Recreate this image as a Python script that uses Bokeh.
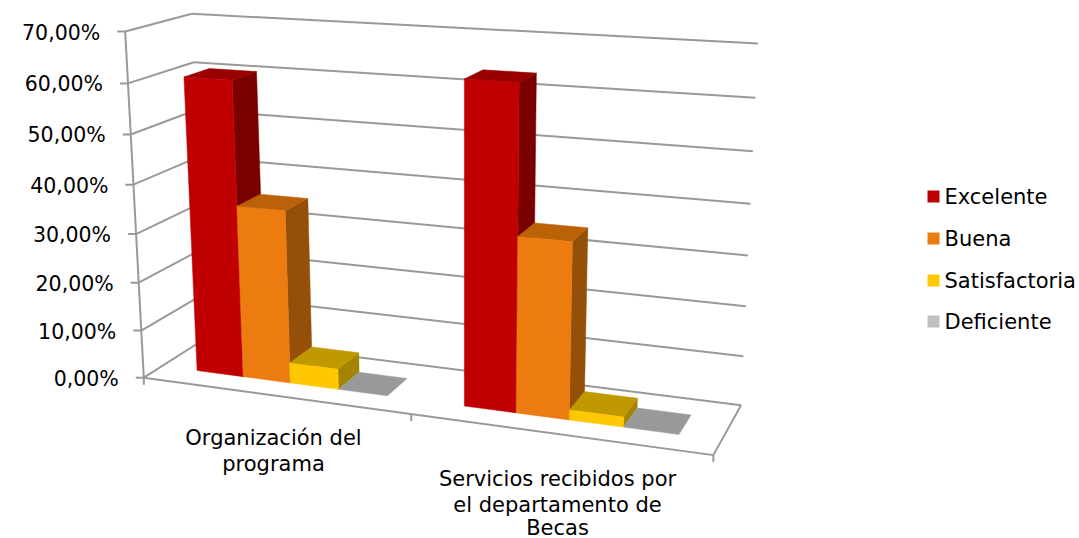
import numpy as np
from bokeh.plotting import figure
from bokeh.models import Range1d
from bokeh.core.properties import value
from bokeh.embed import file_html
from bokeh.resources import INLINE

tick_values = [0, 10, 20, 30, 40, 50, 60, 70]
tick_labels = ["0,00%", "10,00%", "20,00%", "30,00%", "40,00%", "50,00%", "60,00%", "70,00%"]
categories = [["Organización del", "programa"],
              ["Servicios recibidos por", "el departamento de", "Becas"]]
series_names = ["Excelente", "Buena", "Satisfactoria", "Deficiente"]
excelente = [60.5, 63.6]
buena = [35.5, 34.8]
satisfactoria = [4.2, 2.0]
deficiente = [0.0, 0.0]

front_colors = ["#C00000", "#EC7C10", "#FFC800", "#BFBFBF"]
top_colors = ["#990000", "#BA6208", "#C09800", "#999999"]
side_colors = ["#7A0000", "#945008", "#A38300", "#808080"]
legend_colors = ["#C00000", "#EC7C10", "#FFC800", "#BFBFBF"]

# Projective camera fitted to the chart box corners (category u, value v, depth d) -> page pixels
control = [(0,0,0,143,378),(0,70,0,125,32),(0,70,1,190.7,13.5),(0,60,1,193,62),(0,60,0,128.3,83),
           (0,50,0,130,133),(0,40,0,132.5,183),(0,30,0,135.7,233),(0,20,0,138.3,282.7),(0,10,0,140.7,330.7),
           (1,70,1,758,43),(1,60,1,755,97),(1,50,1,752.5,151),(1,40,1,750,203),(1,30,1,747,255),
           (1,20,1,745,306),(1,10,1,743,355.7),(1,0,1,740.7,405),(1,0,0,712.7,454),(.5,0,0,410.7,414),(0,0,1,206,337)]
A = []
for u, v, d, x, y in control:
    w = v / 70
    A.append([u, w, d, 1, 0, 0, 0, 0, -x*u, -x*w, -x*d, -x])
    A.append([0, 0, 0, 0, u, w, d, 1, -y*u, -y*w, -y*d, -y])
P = np.linalg.svd(np.array(A))[2][-1].reshape(3, 4)

def proj(u, v, d):
    h = P @ np.array([u, v / 70, d, 1])
    return float(h[0] / h[2]), float(h[1] / h[2])

p = figure(width=1079, height=538, x_range=Range1d(0, 1079), y_range=Range1d(538, 0),
           output_backend="svg", toolbar_location=None, min_border=0,
           x_axis_type=None, y_axis_type=None, outline_line_color=None)
p.grid.visible = False
p.background_fill_color = "white"

GRID = "#999999"
LW = 2.0
def seg(a, b):
    p.line([a[0], b[0]], [a[1], b[1]], line_color=GRID, line_width=LW)

for v in tick_values:
    seg(proj(0, v, 0), proj(0, v, 1))
    seg(proj(0, v, 1), proj(1, v, 1))
    fx, fy = proj(0, v, 0)
    seg((fx - 8, fy), (fx, fy))
seg(proj(0, 0, 0), proj(0, 70, 0))
seg(proj(0, 0, 0), proj(1, 0, 0))
seg(proj(1, 0, 0), proj(1, 0, 1))
for u in (0, 0.5, 1):
    bx, by = proj(u, 0, 0)
    seg((bx, by), (bx, by + 7))

BAR_W = 0.0905
GAP = 0.0695
D0, D1 = 0.285, 0.682
all_series = [excelente, buena, satisfactoria, deficiente]

def poly(pts, color):
    p.patch([q[0] for q in pts], [q[1] for q in pts], fill_color=color, line_color=color, line_width=0.5)

for c in range(2):
    for s, vals in enumerate(all_series):
        val = vals[c]
        u0 = c * 0.5 + GAP + s * BAR_W
        u1 = u0 + BAR_W
        if val > 0:
            poly([proj(u1, 0, D0), proj(u1, 0, D1), proj(u1, val, D1), proj(u1, val, D0)], side_colors[s])
        poly([proj(u0, val, D0), proj(u1, val, D0), proj(u1, val, D1), proj(u0, val, D1)], top_colors[s])
        if val > 0:
            poly([proj(u0, 0, D0), proj(u1, 0, D0), proj(u1, val, D0), proj(u0, val, D0)], front_colors[s])

FONT = value("DejaVu Sans")
SIZE = "21px"
TEXT = "#000000"

for v, lab in zip(tick_values, tick_labels):
    fx, fy = proj(0, v, 0)
    p.text([fx - 25], [fy + 1], text=[lab], text_font=FONT, text_font_size="20.5px", text_color=TEXT,
           text_align="right", text_baseline="middle")

label_cx = [273, 557]
label_ys = [[437, 463], [478, 504, 527]]
for cx, ys, lines in zip(label_cx, label_ys, categories):
    for y, line in zip(ys, lines):
        p.text([cx], [y], text=[line], text_font=FONT, text_font_size=SIZE, text_color=TEXT,
               text_align="center", text_baseline="middle")

legend_y = [196, 238, 280, 321]
for y, name, color in zip(legend_y, series_names, legend_colors):
    p.quad(left=[927], right=[939], top=[y - 6], bottom=[y + 6], fill_color=color, line_color=None)
    p.text([944], [y], text=[name], text_font=FONT, text_font_size=SIZE, text_color=TEXT,
           text_align="left", text_baseline="middle")

open("out.html", "w").write(file_html(p, INLINE))
